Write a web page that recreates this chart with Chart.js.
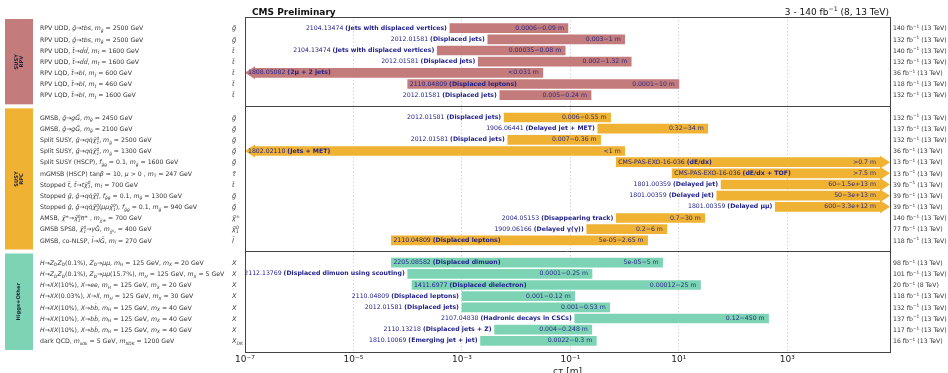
<!DOCTYPE html>
<html>
<head>
<meta charset="utf-8">
<script src="https://cdn.jsdelivr.net/npm/chart.js@4"></script>
<style>
  html, body { margin: 0; padding: 0; background: #fff; }
  #wrap { width: 948px; height: 373px; }
</style>
</head>
<body>
<div id="wrap"><canvas id="chart" width="948" height="373"></canvas></div>
<script>
// ---- Data -------------------------------------------------------------
const SECTIONS = ['SUSY\nRPV', 'SUSY\nRPC', 'Higgs+Other'];
const SECTION_SIZES = [7, 12, 8];

// Process descriptions ($..$ = italic, _{..} subscript, ^{..} superscript)
const PROCESSES = [
  'RPV UDD, $g̃$→$tbs$, $m_{g̃}$ = 2500 GeV',
  'RPV UDD, $g̃$→$tbs$, $m_{g̃}$ = 2500 GeV',
  'RPV UDD, $t̃$→$d̄d̄$, $m_{t̃}$ = 1600 GeV',
  'RPV UDD, $t̃$→$d̄d̄$, $m_{t̃}$ = 1600 GeV',
  'RPV LQD, $t̃$→$bl$, $m_{t̃}$ = 600 GeV',
  'RPV LQD, $t̃$→$bl$, $m_{t̃}$ = 460 GeV',
  'RPV LQD, $t̃$→$bl$, $m_{t̃}$ = 1600 GeV',
  'GMSB, $g̃$→$gG̃$, $m_{g̃}$ = 2450 GeV',
  'GMSB, $g̃$→$gG̃$, $m_{g̃}$ = 2100 GeV',
  'Split SUSY, $g̃$→$qq̄χ̃^{0}_{1}$, $m_{g̃}$ = 2500 GeV',
  'Split SUSY, $g̃$→$qq̄χ̃^{0}_{1}$, $m_{g̃}$ = 1300 GeV',
  'Split SUSY (HSCP), $f_{g̃g}$ = 0.1, $m_{g̃}$ = 1600 GeV',
  'mGMSB (HSCP) tan$β$ = 10, $μ$ > 0 , $m_{τ̃}$ = 247 GeV',
  'Stopped $t̃$, $t̃$→$tχ̃^{0}_{1}$, m$_{t̃}$ = 700 GeV',
  'Stopped $g̃$, $g̃$→$qq̄χ̃^{0}_{1}$, $f_{g̃g}$ = 0.1, $m_{g̃}$ = 1300 GeV',
  'Stopped $g̃$, $g̃$→$qq̄χ̃^{0}_{2}$($μμχ̃^{0}_{1}$), $f_{g̃g}$ = 0.1, $m_{g̃}$ = 940 GeV',
  'AMSB, $χ̃^{±}$→$χ̃^{0}_{1}π^{±}$ , $m_{χ̃±}$ = 700 GeV',
  'GMSB SPS8, $χ̃^{0}_{1}$→$γG̃$, $m_{χ̃⁰₁}$ = 400 GeV',
  'GMSB, co-NLSP, $l̃$→$lG̃$, $m_{l̃}$ = 270 GeV',
  '$H$→$Z_{D}Z_{D}$(0.1%), $Z_{D}$→$μμ$, $m_{H}$ = 125 GeV, $m_{X}$ = 20 GeV',
  '$H$→$Z_{D}Z_{D}$(0.1%), $Z_{D}$→$μμ$(15.7%), $m_{H}$ = 125 GeV, $m_{X}$ = 5 GeV',
  '$H$→$XX$(10%), $X$→$ee$, $m_{H}$ = 125 GeV, $m_{X}$ = 20 GeV',
  '$H$→$XX$(0.03%), $X$→$ll$, $m_{H}$ = 125 GeV, $m_{X}$ = 30 GeV',
  '$H$→$XX$(10%), $X$→$bb̄$, $m_{H}$ = 125 GeV, $m_{X}$ = 40 GeV',
  '$H$→$XX$(10%), $X$→$bb̄$, $m_{H}$ = 125 GeV, $m_{X}$ = 40 GeV',
  '$H$→$XX$(10%), $X$→$bb̄$, $m_{H}$ = 125 GeV, $m_{X}$ = 40 GeV',
  'dark QCD, $m_{πdk}$ = 5 GeV, $m_{XDK}$ = 1200 GeV'
];

const PARTICLES = [
  'g̃', 'g̃', 't̃', 't̃', 't̃', 't̃', 't̃',
  'g̃', 'g̃', 'g̃', 'g̃', 'g̃', 'τ̃', 't̃', 'g̃', 'g̃', 'χ̃^{±}', 'χ̃^{0}_{1}', 'l̃',
  'X', 'X', 'X', 'X', 'X', 'X', 'X', 'X_{DK}'
];

const PAPERS = [
  '2104.13474', '2012.01581', '2104.13474', '2012.01581', '1808.05082', '2110.04809', '2012.01581',
  '2012.01581', '1906.06441', '2012.01581', '1802.02110', 'CMS-PAS-EXO-16-036', 'CMS-PAS-EXO-16-036',
  '1801.00359', '1801.00359', '1801.00359', '2004.05153', '1909.06166', '2110.04809',
  '2205.08582', '2112.13769', '1411.6977', '2110.04809', '2012.01581', '2107.04838', '2110.13218', '1810.10069'
];

const SIGNATURES = [
  'Jets with displaced vertices', 'Displaced jets', 'Jets with displaced vertices', 'Displaced jets',
  '2μ + 2 jets', 'Displaced leptons', 'Displaced jets',
  'Displaced jets', 'Delayed jet + MET', 'Displaced jets', 'Jets + MET', 'dE/dx', 'dE/dx + TOF',
  'Delayed jet', 'Delayed jet', 'Delayed μμ', 'Disappearing track', 'Delayed γ(γ)', 'Displaced leptons',
  'Displaced dimuon', 'Displaced dimuon using scouting', 'Displaced dielectron', 'Displaced leptons',
  'Displaced jets', 'Hadronic decays in CSCs', 'Displaced jets + Z', 'Emerging jet + jet'
];

// Excluded cτ range [m]; null = open-ended ("<" or ">")
const CT_LOW = [
  0.0006, 0.003, 0.00035, 0.002, null, 0.0001, 0.005,
  0.006, 0.32, 0.007, null, 0.7, 7.5, 60, 50, 600, 0.7, 0.2, 5e-5,
  5e-5, 0.0001, 0.00012, 0.001, 0.001, 0.12, 0.004, 0.0022
];
const CT_HIGH = [
  0.09, 1, 0.08, 1.32, 0.031, 10, 0.24,
  0.55, 34, 0.36, 1, null, null, 1.5e13, 3e13, 3.3e12, 30, 6, 2.65,
  5, 0.25, 25, 0.12, 0.53, 450, 0.248, 0.3
];

// Integrated luminosity [fb^-1] and centre-of-mass energy [TeV]
const LUMI = [
  140, 132, 140, 132, 36, 118, 132,
  132, 137, 132, 36, 13, 13, 39, 39, 39, 140, 77, 118,
  98, 101, 20, 118, 132, 137, 117, 16
];
const SQRT_S = [
  13, 13, 13, 13, 13, 13, 13,
  13, 13, 13, 13, 13, 13, 13, 13, 13, 13, 13, 13,
  13, 13, 8, 13, 13, 13, 13, 13
];

const X_TICKS = [1e-7, 1e-5, 1e-3, 1e-1, 1e1, 1e3];
const X_MIN = 1e-7;
const X_MAX = 7.8e4;

// ---- Style --------------------------------------------------------------
const FAMILY = '"DejaVu Sans"';
const SECTION_COLORS = ['#c47b7b', '#f0b232', '#7dd4b4'];
const LINK_COLOR = '#22228c';
const RANGE_COLOR = '#2a2a85';
const TEXT_COLOR = '#333333';
const SMALL = 6.2;
const HEAD = 10;      // arrow head length [px]
const HEAD_H = 13;    // arrow head height [px]
// rows whose paper label sits inside the bar instead of left of it
const LABEL_INSIDE = new Set([4, 5, 10, 11, 12, 18, 19, 21]);

// ---- Row layout (one empty slot between sections) ----------------------
const ROW_Y = [], ROW_SECTION = [], SEP_Y = [];
let slot = 0;
SECTION_SIZES.forEach((n, s) => {
  for (let i = 0; i < n; i++) { ROW_Y.push(slot + i + 1); ROW_SECTION.push(s); }
  slot += n + 1;
  SEP_Y.push(slot);
});
const Y_MAX = slot;

// ---- Rich text helpers -------------------------------------------------
function fontOf(size, italic, bold) {
  return (italic ? 'italic ' : '') + (bold ? 'bold ' : '') + size + 'px ' + FAMILY;
}
function parseRich(str) {
  const runs = []; let it = false, buf = '';
  const flush = () => { if (buf) runs.push({ t: buf, it, kind: 'n' }); buf = ''; };
  for (let i = 0; i < str.length; i++) {
    const c = str[i];
    if (c === '$') { flush(); it = !it; continue; }
    if ((c === '_' || c === '^') && str[i + 1] === '{') {
      flush();
      const end = str.indexOf('}', i + 2);
      runs.push({ t: str.slice(i + 2, end), it, kind: c === '_' ? 'sub' : 'sup' });
      i = end; continue;
    }
    buf += c;
  }
  flush();
  return runs;
}
function layoutRich(ctx, runs, size, bold) {
  const small = size * 0.7;
  const placed = []; let x = 0;
  for (let k = 0; k < runs.length; k++) {
    const r = runs[k];
    if (r.kind === 'n') {
      ctx.font = fontOf(size, r.it, bold);
      placed.push({ t: r.t, font: ctx.font, dx: x, dy: 0 });
      x += ctx.measureText(r.t).width;
    } else {
      ctx.font = fontOf(small, r.it, bold);
      const w = ctx.measureText(r.t).width;
      const dy = r.kind === 'sub' ? size * 0.24 : -size * 0.38;
      placed.push({ t: r.t, font: ctx.font, dx: x, dy });
      const nxt = runs[k + 1];
      if (r.kind === 'sup' && nxt && nxt.kind === 'sub') {
        const f2 = fontOf(small, nxt.it, bold);
        ctx.font = f2;
        const w2 = ctx.measureText(nxt.t).width;
        placed.push({ t: nxt.t, font: f2, dx: x, dy: size * 0.24 });
        x += Math.max(w, w2); k++;
      } else {
        x += w;
      }
    }
  }
  return { placed, width: x };
}
function drawRich(ctx, str, x, y, size, color, align, bold) {
  const L = layoutRich(ctx, parseRich(str), size, bold);
  const x0 = align === 'right' ? x - L.width : align === 'center' ? x - L.width / 2 : x;
  ctx.fillStyle = color;
  ctx.textAlign = 'left';
  ctx.textBaseline = 'alphabetic';
  L.placed.forEach(p => { ctx.font = p.font; ctx.fillText(p.t, x0 + p.dx, y + p.dy); });
  return L.width;
}
function fmt(v) {
  if (v < 1e-4 || v >= 1e6) return v.toExponential().replace(/e([+-])(\d)$/, 'e$10$2');
  return String(v);
}
function rangeText(i) {
  const lo = CT_LOW[i], hi = CT_HIGH[i];
  if (lo === null) return '<' + fmt(hi) + ' m';
  if (hi === null) return '>' + fmt(lo) + ' m';
  return fmt(lo) + '−' + fmt(hi) + ' m';
}
function drawPaper(ctx, i, x, y, align) {
  const id = PAPERS[i] + ' ', sig = '(' + SIGNATURES[i] + ')';
  ctx.font = fontOf(SMALL, false, false); const w1 = ctx.measureText(id).width;
  ctx.font = fontOf(SMALL, false, true); const w2 = ctx.measureText(sig).width;
  const x0 = align === 'right' ? x - w1 - w2 : x;
  ctx.fillStyle = LINK_COLOR;
  ctx.textAlign = 'left';
  ctx.textBaseline = 'middle';
  ctx.font = fontOf(SMALL, false, false); ctx.fillText(id, x0, y);
  ctx.font = fontOf(SMALL, false, true); ctx.fillText(sig, x0 + w1, y);
}
const SUPER = { '-': '⁻', '0': '⁰', '1': '¹', '2': '²', '3': '³', '4': '⁴', '5': '⁵', '6': '⁶', '7': '⁷', '8': '⁸', '9': '⁹' };
function powerLabel(v) {
  const e = Math.round(Math.log10(v));
  return '10' + String(e).split('').map(c => SUPER[c]).join('');
}

// ---- Decorations drawn around the bars ---------------------------------
const decorations = {
  id: 'decorations',
  beforeDatasetsDraw(chart) {
    const { left, right } = chart.chartArea;
    chart.getDatasetMeta(0).data.forEach((bar, i) => {
      if (CT_LOW[i] === null) bar.base = left + HEAD;
      if (CT_HIGH[i] === null || CT_HIGH[i] > X_MAX) bar.x = Math.min(bar.x, right - HEAD);
    });
  },
  afterDatasetsDraw(chart) {
    const ctx = chart.ctx;
    const { left, right, top, bottom } = chart.chartArea;
    const yScale = chart.scales.y;
    ctx.save();
    chart.getDatasetMeta(0).data.forEach((bar, i) => {
      const y = bar.y;
      ctx.fillStyle = SECTION_COLORS[ROW_SECTION[i]];
      if (CT_LOW[i] === null) {
        ctx.beginPath();
        ctx.moveTo(left, y); ctx.lineTo(left + HEAD, y - HEAD_H / 2); ctx.lineTo(left + HEAD, y + HEAD_H / 2);
        ctx.closePath(); ctx.fill();
      }
      if (CT_HIGH[i] === null || CT_HIGH[i] > X_MAX) {
        ctx.beginPath();
        ctx.moveTo(right, y); ctx.lineTo(right - HEAD, y - HEAD_H / 2); ctx.lineTo(right - HEAD, y + HEAD_H / 2);
        ctx.closePath(); ctx.fill();
      }
      // paper reference
      if (LABEL_INSIDE.has(i)) {
        const x = CT_LOW[i] === null ? left + 3 : bar.base + 2;
        drawPaper(ctx, i, x, y, 'left');
      } else {
        drawPaper(ctx, i, bar.base - 3, y, 'right');
      }
      // excluded range
      ctx.font = fontOf(SMALL, false, false);
      ctx.fillStyle = RANGE_COLOR;
      ctx.textAlign = 'right';
      ctx.textBaseline = 'middle';
      ctx.fillText(rangeText(i), bar.x - 4, y);
    });
    // section separators and frame
    ctx.strokeStyle = '#444';
    ctx.lineWidth = 1;
    SEP_Y.slice(0, -1).forEach(v => {
      const py = Math.round(yScale.getPixelForValue(v)) + 0.5;
      ctx.beginPath(); ctx.moveTo(left, py); ctx.lineTo(right, py); ctx.stroke();
    });
    ctx.strokeRect(Math.round(left) + 0.5, Math.round(top) + 0.5, Math.round(right - left), Math.round(bottom - top));
    ctx.restore();
  },
  afterDraw(chart) {
    const ctx = chart.ctx;
    const { right } = chart.chartArea;
    const yScale = chart.scales.y;
    ctx.save();
    // header
    ctx.fillStyle = '#111';
    ctx.font = fontOf(9, false, true);
    ctx.textAlign = 'left'; ctx.textBaseline = 'alphabetic';
    ctx.fillText('CMS Preliminary', 252, 14.5);
    drawRich(ctx, '3 - 140 fb^{−1} (8, 13 TeV)', right - 1, 14.5, 9, '#111', 'right', false);

    // section boxes
    SECTIONS.forEach((name, s) => {
      const y0 = yScale.getPixelForValue(s === 0 ? 0 : SEP_Y[s - 1]) + 2;
      const y1 = yScale.getPixelForValue(SEP_Y[s]) - 2;
      ctx.fillStyle = SECTION_COLORS[s];
      ctx.fillRect(5, y0, 28, y1 - y0);
      ctx.save();
      ctx.translate(19, (y0 + y1) / 2);
      ctx.rotate(-Math.PI / 2);
      ctx.fillStyle = '#1e1e38';
      ctx.font = fontOf(5.2, false, true);
      ctx.textAlign = 'center'; ctx.textBaseline = 'middle';
      const lines = name.split('\n');
      lines.forEach((ln, k) => ctx.fillText(ln, 0, (k - (lines.length - 1) / 2) * 5.2));
      ctx.restore();
    });

    // row texts outside the plot
    ROW_Y.forEach((v, i) => {
      const py = yScale.getPixelForValue(v);
      const base = py + SMALL * 0.36;
      drawRich(ctx, PROCESSES[i], 40, base, SMALL, TEXT_COLOR, 'left', false);
      drawRich(ctx, '$' + PARTICLES[i] + '$', 232, base, 6.6, TEXT_COLOR, 'left', false);
      drawRich(ctx, LUMI[i] + ' fb^{−1} (' + SQRT_S[i] + ' TeV)', right + 3, base, SMALL, TEXT_COLOR, 'left', false);
    });
    ctx.restore();
  }
};

// ---- Chart ---------------------------------------------------------------
new Chart(document.getElementById('chart'), {
  type: 'bar',
  data: {
    datasets: [{
      data: ROW_Y.map((y, i) => ({ y, x: [CT_LOW[i] ?? X_MIN, CT_HIGH[i] ?? X_MAX] })),
      backgroundColor: ROW_SECTION.map(s => SECTION_COLORS[s]),
      borderWidth: 0,
      barThickness: 9
    }]
  },
  options: {
    indexAxis: 'y',
    responsive: false,
    maintainAspectRatio: false,
    animation: false,
    events: [],
    layout: { padding: { left: 245, right: 58, top: 17, bottom: 0 } },
    plugins: { legend: { display: false }, tooltip: { enabled: false } },
    scales: {
      y: { type: 'linear', min: 0, max: Y_MAX, reverse: true, display: false, offset: false },
      x: {
        type: 'logarithmic',
        min: X_MIN,
        max: X_MAX,
        position: 'bottom',
        afterBuildTicks: s => { s.ticks = X_TICKS.map(v => ({ value: v })); },
        afterFit: s => { s.height = 21; },
        ticks: {
          autoSkip: false, maxRotation: 0, padding: 2, color: '#222',
          font: { family: 'DejaVu Sans', size: 9 },
          callback: v => powerLabel(v)
        },
        grid: { color: '#d6d6d6', lineWidth: 1, drawTicks: false },
        border: { display: false, dash: [1.5, 2] },
        title: {
          display: true, text: 'cτ [m]', color: '#222',
          font: { family: 'DejaVu Sans', size: 9 },
          padding: { top: 0, bottom: -4 }
        }
      }
    }
  },
  plugins: [decorations]
});
</script>
</body>
</html>
